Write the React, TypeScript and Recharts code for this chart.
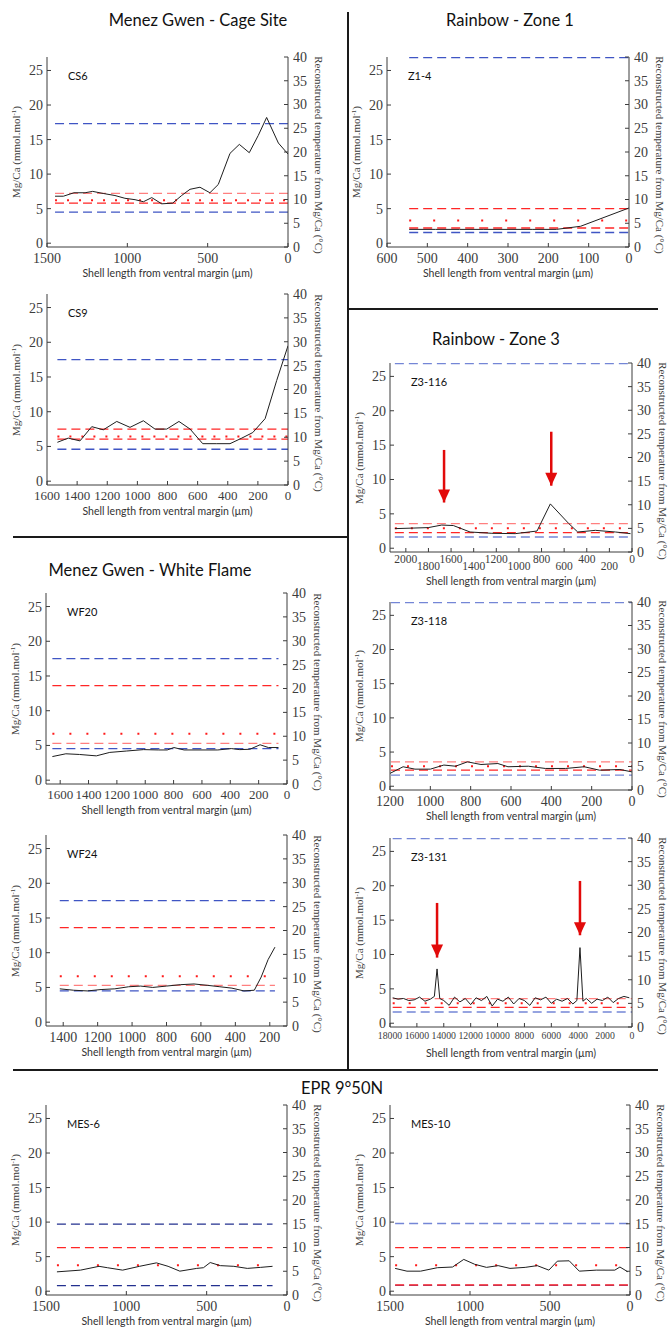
import React from "react";
import { LineChart, Line, XAxis, YAxis, ReferenceLine, ReferenceDot } from "recharts";

const SERIF = '"Liberation Serif", "DejaVu Serif", serif';
const SANS = 'Lato, "Noto Sans", sans-serif';
const INK = "#3c3c3c";
const ARROW = "#e20a0a";

// ---------- values ----------
const mgTicks = [0, 5, 10, 15, 20, 25];
const tempTicks = [0, 5, 10, 15, 20, 25, 30, 35, 40];

// Menez Gwen - Cage Site
const cs6Length = [1450, 1398, 1332, 1263, 1216, 1150, 1077, 1015, 952, 900, 848, 786, 718, 662, 610, 548, 486, 434, 361, 303, 241, 185, 133, 60, 0];
const cs6MgCa = [6.8, 6.8, 7.3, 7.3, 7.5, 7.2, 6.9, 6.5, 6.3, 6.0, 6.6, 5.7, 5.8, 6.9, 7.8, 8.1, 7.3, 8.5, 13.0, 14.3, 13.1, 15.6, 18.2, 14.5, 12.9];
const cs6Levels = [17.3, 7.2, 6.2, 5.8, 4.5];
const cs6Span = [1450, 0];
const cs6Ticks = [0, 500, 1000, 1500];

const cs9Length = [1531, 1459, 1381, 1303, 1226, 1137, 1049, 960, 883, 805, 724, 650, 566, 473, 385, 307, 234, 152, 75, 0];
const cs9MgCa = [5.6, 6.2, 5.8, 7.85, 7.4, 8.6, 7.75, 8.7, 7.5, 7.5, 8.6, 7.5, 5.4, 5.4, 5.4, 6.2, 7.0, 9.0, 14.5, 19.5];
const cs9Levels = [17.5, 7.5, 6.45, 6.05, 4.6];
const cs9Span = [1531, 0];
const cs9Ticks = [0, 200, 400, 600, 800, 1000, 1200, 1400, 1600];

// Menez Gwen - White Flame
const wf20Length = [1655, 1560, 1464, 1345, 1250, 1131, 1012, 905, 845, 798, 726, 607, 488, 393, 333, 262, 190, 131, 60];
const wf20MgCa = [3.4, 3.8, 3.7, 3.5, 4.0, 4.2, 4.4, 4.35, 4.35, 4.7, 4.35, 4.35, 4.35, 4.55, 4.4, 4.45, 5.1, 4.7, 4.7];
const wf20Levels = [17.5, 13.6, 6.7, 5.3, 4.55];
const wf20Span = [1655, 60];
const wf20Ticks = [0, 200, 400, 600, 800, 1000, 1200, 1400, 1600];

const wf24Length = [1420, 1340, 1260, 1180, 1100, 1020, 950, 880, 800, 720, 640, 560, 490, 420, 350, 290, 250, 210, 170];
const wf24MgCa = [4.8, 4.6, 4.5, 4.7, 4.8, 5.1, 5.2, 5.0, 5.2, 5.4, 5.5, 5.3, 5.1, 4.9, 4.5, 4.6, 6.5, 9.0, 10.8];
const wf24Levels = [17.5, 13.6, 6.6, 5.3, 4.5];
const wf24Span = [1420, 170];
const wf24Ticks = [200, 400, 600, 800, 1000, 1200, 1400];

// Rainbow - Zone 1
const z14Length = [545, 480, 420, 360, 300, 240, 180, 120, 0];
const z14MgCa = [2.0, 2.0, 2.0, 2.0, 2.0, 2.0, 2.0, 2.45, 5.1];
const z14Levels = [26.85, 5.0, 3.3, 2.2, 1.55];
const z14Span = [545, 0];
const z14Ticks = [0, 100, 200, 300, 400, 500, 600];

// Rainbow - Zone 3
const z3116Length = [2097, 1801, 1683, 1580, 1432, 1239, 1033, 840, 722, 560, 480, 324, 146, 13];
const z3116MgCa = [2.85, 3.0, 3.37, 3.3, 2.36, 2.17, 2.12, 2.5, 6.45, 3.6, 2.36, 2.6, 2.36, 2.12];
const z3116Levels = [26.85, 3.57, 2.9, 2.27, 1.63];
const z3116Span = [2097, 0];
const z3116Ticks = [0, 200, 400, 600, 800, 1000, 1200, 1400, 1600, 1800, 2000];
const z3116ArrowAt = [1662, 714];
const z3116ArrowTop = [14.3, 16.95];
const z3116ArrowTip = [6.65, 9.1];

const z3118Length = [1200, 1135, 1076, 1000, 933, 875, 816, 749, 665, 615, 514, 430, 329, 237, 161, 60, 0];
const z3118MgCa = [1.88, 2.85, 2.5, 2.5, 3.1, 2.93, 3.57, 3.18, 3.32, 2.85, 2.93, 2.6, 2.6, 2.85, 2.35, 2.45, 2.1];
const z3118Levels = [26.85, 3.57, 2.93, 2.35, 1.63];
const z3118Span = [1195, 0];
const z3118Ticks = [0, 200, 400, 600, 800, 1000, 1200];

const z3131Length = [17800, 17400, 17000, 16600, 16200, 15800, 15400, 15000, 14700, 14500, 14300, 14000, 13600, 13200, 12800, 12400, 12000, 11600, 11200, 10800, 10400, 10000, 9600, 9200, 8800, 8400, 8000, 7600, 7200, 6800, 6400, 6000, 5600, 5200, 4800, 4400, 4100, 3870, 3650, 3400, 3000, 2600, 2200, 1800, 1400, 1000, 600, 200];
const z3131MgCa = [3.7, 3.5, 3.6, 3.3, 3.4, 3.8, 3.2, 3.5, 3.9, 7.9, 3.6, 3.3, 2.6, 3.8, 3.1, 3.6, 2.7, 3.7, 3.3, 3.9, 2.5, 3.5, 3.2, 3.8, 2.8, 3.6, 3.3, 2.6, 3.7, 3.4, 3.8, 2.9, 3.5, 3.2, 3.6, 2.8, 3.3, 11.0, 3.2, 3.6, 2.9, 3.5, 3.3, 3.8, 3.0, 3.6, 3.9, 3.7];
const z3131Levels = [26.85, 3.57, 2.9, 2.3, 1.63];
const z3131Span = [17800, 0];
const z3131Ticks = [0, 2000, 4000, 6000, 8000, 10000, 12000, 14000, 16000, 18000];
const z3131ArrowAt = [14500, 3870];
const z3131ArrowTop = [17.5, 20.7];
const z3131ArrowTip = [9.55, 12.8];

// EPR 9°50N
const mes6Length = [1432, 1285, 1170, 1118, 1023, 918, 813, 740, 667, 562, 520, 478, 415, 331, 247, 164, 90];
const mes6MgCa = [2.8, 3.05, 3.6, 3.4, 3.05, 3.6, 4.1, 3.6, 2.9, 3.3, 3.4, 4.15, 3.7, 3.6, 3.3, 3.45, 3.6];
const mes6Levels = [9.7, 6.3, 3.77, 0.8];
const mes6Span = [1432, 90];

const mes10Length = [1468, 1394, 1309, 1204, 1109, 1039, 971, 897, 824, 750, 655, 580, 507, 454, 380, 317, 211, 95, 63, 13];
const mes10MgCa = [3.3, 2.9, 2.9, 3.4, 3.5, 4.6, 3.9, 3.45, 3.7, 3.3, 3.45, 3.7, 3.05, 4.35, 4.4, 2.9, 3.05, 3.05, 3.5, 2.8];
const mes10Levels = [9.8, 6.3, 3.77, 0.85, 0.9];
const mes10Span = [1468, 13];
const mesTicks = [0, 500, 1000, 1500];

// ---------- looks ----------
const LOOKS: Record<string, { stroke: string; dash: string; width: number }> = {
  blue: { stroke: "#3f55c4", dash: "9 5", width: 1.3 },
  pale: { stroke: "#7486d6", dash: "9 5", width: 1.3 },
  navy: { stroke: "#23308f", dash: "9 5", width: 1.3 },
  pink: { stroke: "#ff7f7f", dash: "9 5", width: 1.3 },
  red: { stroke: "#ff2626", dash: "9 5", width: 1.3 },
  dot: { stroke: "#ff1a1a", dash: "2 10", width: 2 },
};

type Panel = {
  id: string;
  box: [number, number, number, number];
  xDomain: [number, number];
  xTicks: number[];
  length: number[];
  mgca: number[];
  levels: number[];
  looks: string[];
  span: number[];
  dotGap: number;
  tickFont?: number;
  stagger?: boolean;
  arrowAt?: number[];
  arrowTop?: number[];
  arrowTip?: number[];
};

const panels: Panel[] = [
  { id: "CS6", box: [47, 57, 288, 247], xDomain: [0, 1500], xTicks: cs6Ticks, length: cs6Length, mgca: cs6MgCa, levels: cs6Levels, looks: ["blue", "pink", "dot", "red", "blue"], span: cs6Span, dotGap: 10 },
  { id: "CS9", box: [47, 294, 288, 485], xDomain: [0, 1600], xTicks: cs9Ticks, length: cs9Length, mgca: cs9MgCa, levels: cs9Levels, looks: ["blue", "red", "dot", "red", "blue"], span: cs9Span, dotGap: 10, tickFont: 13 },
  { id: "WF20", box: [46, 593, 287, 784], xDomain: [0, 1700], xTicks: wf20Ticks, length: wf20Length, mgca: wf20MgCa, levels: wf20Levels, looks: ["blue", "red", "dot", "pink", "blue"], span: wf20Span, dotGap: 15, tickFont: 13 },
  { id: "WF24", box: [46, 835, 287, 1026], xDomain: [100, 1500], xTicks: wf24Ticks, length: wf24Length, mgca: wf24MgCa, levels: wf24Levels, looks: ["blue", "red", "dot", "pink", "blue"], span: wf24Span, dotGap: 15 },
  { id: "Z1-4", box: [387, 57, 629, 247], xDomain: [0, 600], xTicks: z14Ticks, length: z14Length, mgca: z14MgCa, levels: z14Levels, looks: ["blue", "red", "dot", "red", "blue"], span: z14Span, dotGap: 22 },
  { id: "Z3-116", box: [390, 363, 632, 552], xDomain: [0, 2140], xTicks: z3116Ticks, length: z3116Length, mgca: z3116MgCa, levels: z3116Levels, looks: ["pale", "pink", "dot", "red", "pale"], span: z3116Span, dotGap: 14, tickFont: 11.5, stagger: true, arrowAt: z3116ArrowAt, arrowTop: z3116ArrowTop, arrowTip: z3116ArrowTip },
  { id: "Z3-118", box: [390, 602, 632, 790], xDomain: [0, 1200], xTicks: z3118Ticks, length: z3118Length, mgca: z3118MgCa, levels: z3118Levels, looks: ["pale", "pink", "dot", "red", "pale"], span: z3118Span, dotGap: 14 },
  { id: "Z3-131", box: [390, 838, 632, 1027], xDomain: [0, 18000], xTicks: z3131Ticks, length: z3131Length, mgca: z3131MgCa, levels: z3131Levels, looks: ["pale", "pink", "dot", "red", "pale"], span: z3131Span, dotGap: 14, tickFont: 9.8, arrowAt: z3131ArrowAt, arrowTop: z3131ArrowTop, arrowTip: z3131ArrowTip },
  { id: "MES-6", box: [46, 1105, 287, 1295], xDomain: [0, 1500], xTicks: mesTicks, length: mes6Length, mgca: mes6MgCa, levels: mes6Levels, looks: ["navy", "red", "dot", "navy"], span: mes6Span, dotGap: 18 },
  { id: "MES-10", box: [390, 1105, 630, 1295], xDomain: [0, 1500], xTicks: mesTicks, length: mes10Length, mgca: mes10MgCa, levels: mes10Levels, looks: ["pale", "red", "dot", "blue", "red"], span: mes10Span, dotGap: 18 },
];

const MG_DOMAIN: [number, number] = [-0.55, 26.95];
const LEFT_W = 45;
const RIGHT_W = 45;
const TOP_M = 8;
const BOTTOM_H = 45;
const axisStroke = { stroke: INK, strokeWidth: 1 };

function Heading({ text, x, y }: { text: string; x: number; y: number }) {
  return (
    <div style={{ position: "absolute", left: x, top: y, transform: "translate(-50%,-50%)", whiteSpace: "nowrap", fontFamily: SANS, fontSize: 16.5, color: "#111", lineHeight: 1 }}>
      {text}
    </div>
  );
}

function Rotated({ x, y, deg, children }: { x: number; y: number; deg: number; children: React.ReactNode }) {
  return (
    <div style={{ position: "absolute", left: x, top: y, transform: `translate(-50%,-50%) rotate(${deg}deg)`, whiteSpace: "nowrap", fontFamily: SERIF, fontSize: 11, color: INK, lineHeight: 1 }}>
      {children}
    </div>
  );
}

function PanelChart({ p }: { p: Panel }) {
  const [x0, y0, x1, y1] = p.box;
  const data = p.length.map((d, i) => ({ d, v: p.mgca[i] }));
  const font = p.tickFont ?? 14;
  const cy = (y0 + y1) / 2;

  const renderXTick = (props: any) => {
    const v = props.payload.value as number;
    const low = p.stagger && v % 400 !== 0;
    return (
      <text x={props.x} y={props.y + (low ? 7 : 0)} dy="0.71em" textAnchor="middle" fill={INK} fontSize={font} fontFamily={SERIF}>
        {v}
      </text>
    );
  };

  return (
    <>
      <div style={{ position: "absolute", left: x0 - LEFT_W, top: y0 - TOP_M }}>
        <LineChart width={x1 - x0 + LEFT_W + RIGHT_W} height={y1 - y0 + TOP_M + BOTTOM_H} data={data} margin={{ top: TOP_M, right: 0, bottom: 0, left: 0 }}>
          <XAxis xAxisId="top" orientation="top" type="number" domain={p.xDomain} reversed ticks={p.xTicks} height={0} tick={false} tickSize={-4} axisLine={axisStroke} tickLine={axisStroke} allowDataOverflow />
          <XAxis dataKey="d" type="number" domain={p.xDomain} reversed ticks={p.xTicks} height={BOTTOM_H} tickSize={-4} tickMargin={p.stagger ? 7 : font < 13 ? 9 : 10} axisLine={axisStroke} tickLine={axisStroke} tick={renderXTick} interval={0} allowDataOverflow />
          <YAxis type="number" domain={MG_DOMAIN} ticks={mgTicks} width={LEFT_W} tickSize={-4} tickMargin={8} axisLine={axisStroke} tickLine={axisStroke} tick={{ fill: INK, fontSize: 14, fontFamily: SERIF }} interval={0} allowDataOverflow />
          <YAxis yAxisId="temp" orientation="right" type="number" domain={[0, 40]} ticks={tempTicks} width={RIGHT_W} tickSize={-4} tickMargin={9} axisLine={axisStroke} tickLine={axisStroke} tick={{ fill: INK, fontSize: 14, fontFamily: SERIF }} interval={0} allowDataOverflow />
          {p.levels.map((lv, i) => {
            const look = LOOKS[p.looks[i]];
            const dash = p.looks[i] === "dot" ? `2 ${p.dotGap}` : look.dash;
            return (
              <ReferenceLine
                key={`lv${i}`}
                segment={[{ x: p.span[0], y: lv }, { x: p.span[1], y: lv }]}
                stroke={look.stroke}
                strokeWidth={look.width}
                strokeDasharray={dash}
                ifOverflow="extendDomain"
              />
            );
          })}
          <Line dataKey="v" type="linear" stroke="#1e1e1e" strokeWidth={1} dot={false} isAnimationActive={false} />
          {(p.arrowAt ?? []).map((ax, i) => (
            <ReferenceLine
              key={`as${i}`}
              segment={[{ x: ax, y: p.arrowTop![i] }, { x: ax, y: p.arrowTip![i] }]}
              stroke={ARROW}
              strokeWidth={2.5}
            />
          ))}
          {(p.arrowAt ?? []).map((ax, i) => (
            <ReferenceDot
              key={`ah${i}`}
              x={ax}
              y={p.arrowTip![i]}
              r={0}
              shape={(s: any) => (
                <path d={`M${s.cx - 6},${s.cy - 13} L${s.cx + 6},${s.cy - 13} L${s.cx},${s.cy} Z`} fill={ARROW} />
              )}
            />
          ))}
        </LineChart>
      </div>
      <div style={{ position: "absolute", left: x0 + 21, top: y0 + 13, fontFamily: SANS, fontSize: 11, color: "#111", lineHeight: 1 }}>{p.id}</div>
      <Rotated x={x0 - 31} y={cy} deg={-90}>
        Mg/Ca (mmol.mol<sup style={{ fontSize: 7, verticalAlign: "4px" }}>-1</sup>)
      </Rotated>
      <Rotated x={x1 + 30} y={cy + 3} deg={90}>
        Reconstructed temperature from Mg/Ca (°C)
      </Rotated>
      <div style={{ position: "absolute", left: (x0 + x1) / 2, top: y1 + (p.stagger ? 29 : 26), transform: "translate(-50%,-50%)", whiteSpace: "nowrap", fontFamily: SANS, fontSize: 10.5, color: "#333", lineHeight: 1 }}>
        Shell length from ventral margin (µm)
      </div>
    </>
  );
}

export default function App() {
  const rule = (left: number, top: number, width: number, height: number) => (
    <div style={{ position: "absolute", left, top, width, height, background: "#1a1a1a" }} />
  );
  return (
    <div style={{ position: "absolute", left: 0, top: 0, width: 671, height: 1328, background: "#fff", overflow: "hidden" }}>
      {rule(347, 12, 2, 1058)}
      {rule(13, 536, 335, 2)}
      {rule(348, 308, 310, 2)}
      {rule(13, 1069, 645, 2)}
      <Heading text="Menez Gwen - Cage Site" x={198} y={20} />
      <Heading text="Rainbow - Zone 1" x={510} y={20} />
      <Heading text="Rainbow - Zone 3" x={496} y={339} />
      <Heading text="Menez Gwen - White Flame" x={150} y={570} />
      <Heading text="EPR 9°50N" x={342} y={1088} />
      {panels.map((p) => (
        <PanelChart key={p.id} p={p} />
      ))}
    </div>
  );
}
